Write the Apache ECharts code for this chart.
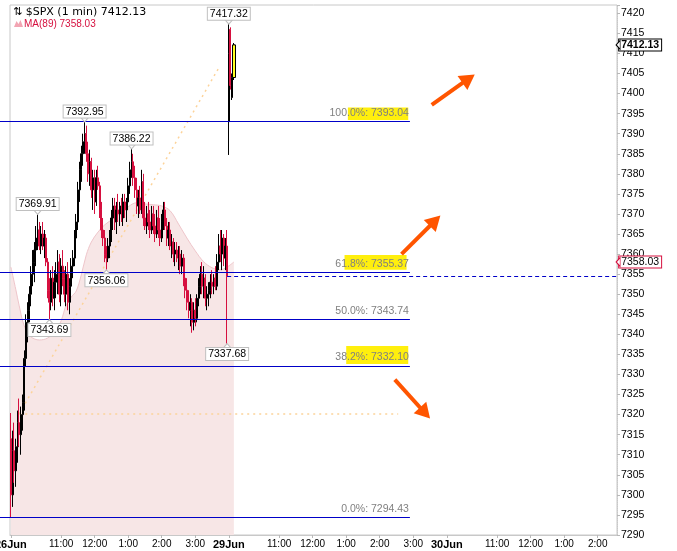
<!DOCTYPE html>
<html><head><meta charset="utf-8">
<script src="https://cdn.jsdelivr.net/npm/echarts@6/dist/echarts.min.js"></script>
<style>html,body{margin:0;padding:0;background:#fff}#c{width:677px;height:551px}</style>
</head><body><div id="c"></div>
<script>
// 3-minute bars (26Jun session + first bars of 29Jun)
const barOpen = [7314,7300,7311,7306,7312,7318,7315,7320,7323,7334,
7343,7346,7350,7355,7358,7361,7364,7366,7362,7365,
7362,7364,7358,7351,7348,7354,7349,7353,7355,7358,
7350,7357,7354,7350,7355,7348,7352,7357,7359,7364,
7368,7376,7381,7385,7388,7390,7385,7380,7383,7376,
7379,7373,7379,7377,7371,7366,7364,7360,7359,7362,
7365,7369,7372,7368,7371,7370,7372,7369,7373,7371,
7373,7377,7381,7383,7379,7376,7372,7374,7371,7378,
7369,7367,7370,7368,7366,7370,7367,7365,7369,7366,
7364,7368,7371,7367,7364,7366,7362,7363,7360,7361,
7359,7360,7357,7359,7354,7351,7348,7346,7348,7343,
7346,7344,7349,7352,7355,7352,7354,7349,7350,7351,
7353,7352,7354,7352,7358,7362,7360,7364,7359,7362,
7393,7416,7399,7404];
const barHigh = [7320.4,7316,7318,7314,7321,7324,7322,7325,7336,7345,
7348,7352,7357,7361,7363,7367,7369.91,7368,7367,7368,
7366,7365,7359,7354,7356,7357,7356,7358,7361,7360,
7359,7361,7356,7357,7358,7354,7359,7361,7366,7370,
7378,7383,7387,7390,7392.95,7392,7388,7386,7384,7381,
7381,7381,7382,7378,7373,7369,7366,7362,7364,7366,
7371,7374,7374,7373,7375,7373,7374,7375,7375,7374,
7379,7383,7386.22,7385,7382,7379,7376,7377,7381,7380,
7373,7372,7373,7371,7372,7372,7370,7371,7372,7369,
7370,7373,7373,7369,7368,7368,7365,7364,7363,7363,
7362,7362,7361,7360,7357,7354,7351,7350,7349,7348,
7349,7350,7354,7357,7358,7357,7355,7352,7353,7355,
7356,7355,7357,7360,7365,7366,7366,7365,7364,7366,
7417.32,7416.5,7405,7412.6];
const barLow = [7294.43,7297,7303,7302,7308,7312,7310,7316,7321,7332,
7338,7343,7347,7352,7353,7357,7361,7361,7360,7361,
7359,7357,7349,7343.69,7346,7347,7346,7349,7350,7348,
7347,7352,7348,7347,7346,7345,7350,7354,7357,7362,
7366,7373,7378,7382,7385,7383,7378,7377,7374,7371,
7370,7372,7376,7369,7364,7362,7358,7356.06,7358,7359,
7363,7366,7366,7365,7368,7367,7368,7367,7369,7368,
7371,7375,7379,7377,7374,7370,7369,7370,7370,7367,
7366,7365,7366,7364,7365,7365,7363,7364,7364,7362,
7363,7366,7366,7362,7362,7361,7359,7358,7357,7358,
7356,7355,7355,7352,7349,7346,7344,7342,7340.4,7341,
7342,7343,7347,7350,7350,7349,7347,7346,7347,7349,
7350,7350,7351,7351,7356,7358,7356,7357,7356,7337.68,
7384.7,7401,7398.4,7403.4];
const barClose = [7300,7311,7306,7312,7318,7315,7320,7323,7334,7343,
7346,7350,7355,7358,7361,7364,7366,7362,7365,7362,
7364,7358,7351,7348,7354,7349,7353,7355,7358,7350,
7357,7354,7350,7355,7348,7352,7357,7359,7364,7368,
7376,7381,7385,7388,7390,7385,7380,7383,7376,7379,
7373,7379,7377,7371,7366,7364,7360,7359,7362,7365,
7369,7372,7368,7371,7370,7372,7369,7373,7371,7373,
7377,7381,7383,7379,7376,7372,7374,7371,7378,7369,
7367,7370,7368,7366,7370,7367,7365,7369,7366,7364,
7368,7371,7367,7364,7366,7362,7363,7360,7361,7359,
7360,7357,7359,7354,7351,7348,7346,7348,7343,7346,
7344,7349,7352,7355,7352,7354,7349,7350,7351,7353,
7352,7354,7352,7358,7362,7360,7364,7359,7362,7354.4,
7410,7402,7404,7412.13];
const highlightIdx = [133];

// MA(89) read at sample bars
const maIdx = [0,3,5,8,12,17,22,27,30,33,36,39,42,45,48,52,56,60,65,70,75,80,85,90,95,100,105,110,115,120,125,129,133];
const maVal = [7356.8,7351.1,7347.1,7342.1,7339.4,7338.6,7339.1,7341.1,7343.4,7347.3,7349.3,7350.8,7354.8,7359.8,7363.0,7365.5,7367.3,7368.5,7370.0,7371.8,7372.8,7372.5,7372.3,7372.0,7370.8,7367.5,7364.0,7360.8,7358.1,7356.6,7356.1,7356.8,7358.03];

// x axis (3-min slots) and tick labels
const sessionDays = ['26Jun','29Jun','30Jun'];
const slotCount = 362;
const xTickIdx = [0,30,50,70,90,110,130,160,180,200,220,240,260,290,310,330,350];
const xTickText = ['26Jun','11:00','12:00','1:00','2:00','3:00','29Jun','11:00','12:00','1:00','2:00','3:00','30Jun','11:00','12:00','1:00','2:00'];

// Fibonacci retracement
const fibPct = ['100.0','61.8','50.0','38.2','0.0'];
const fibVal = [7393.04,7355.37,7343.74,7332.10,7294.43];
const fibEndIdx = 238;

// swing labels
const swingIdx = [44,72,16,57,23,129,130];
const swingVal = [7392.95,7386.22,7369.91,7356.06,7343.69,7337.68,7417.32];
const swingSide = ['top','top','top','bottom','bottom','bottom','top'];

const lastPrice = 7412.13;
const maLast = 7358.03;
const prevClose = 7354.4;
const prevCloseIdx = [129, 361];

// drawn annotations (data coords)
const trendFrom = [5, 7320.2];
const trendTo = [124, 7406.4];
const hLineFrom = [5, 7320.2];
const hLineTo = [231, 7320.2];
const arrowsFrom = [[251,7397.2],[233,7360.0],[229,7328.7]];
const arrowsTo = [[273,7403.7],[253,7368.3],[247,7320.4]];
const yellowFrom = [[201,7396.5],[199,7359.8],[200,7337.1]];
const yellowTo = [[237,7393.4],[236,7356.1],[237,7332.6]];

const categories = [];
for (let i = 0; i < slotCount; i++) {
  const d = Math.floor(i / 130), m = 570 + (i % 130) * 3;
  categories.push(sessionDays[d] + ' ' + String(Math.floor(m/60)).padStart(2,'0') + ':' + String(m%60).padStart(2,'0'));
}
const candleData = barOpen.map((o,i)=>[o, barClose[i], barLow[i], barHigh[i]]);
const hlData = candleData.map((d,i)=> highlightIdx.includes(i) ? d : ['-','-','-','-']);
const maData = new Array(barOpen.length).fill(null);
maIdx.forEach((ix,k)=>{ maData[ix] = maVal[k]; });

const RED = '#d6103f';
const BLUE = '#0000c8';
const CLEAR = 'rgba(0,0,0,0)';
const isTick = (i)=> xTickIdx.indexOf(i) >= 0;

const fibLines = fibPct.map((p,k)=>[
  {coord:[0, fibVal[k]], x:0},
  {coord:[fibEndIdx, fibVal[k]],
   lineStyle:{color:BLUE, width:1, type:'solid'},
   label:{show:true, position:'insideEndTop', distance:[1,3], formatter: p + '%: ' + fibVal[k].toFixed(2), color:'#808080', fontSize:10.5}}
]);
const arrowLines = arrowsFrom.map((f,k)=>[
  {coord:f, symbol:'none'},
  {coord:arrowsTo[k], symbol:'triangle', symbolSize:[17,15], lineStyle:{color:'#ff5500', width:4, type:'solid'}, label:{show:false}}
]);
const priceBox = (v, border, bold)=>[
  {coord:[prevCloseIdx[1] - 2, v], symbol:'none'},
  {coord:[prevCloseIdx[1], v], symbol:'none', lineStyle:{color:CLEAR, width:1},
   label:{show:true, position:'end', distance:3, formatter:v.toFixed(2), fontWeight: bold ? 'bold' : 'normal', fontSize:10.5, color:'#000',
     backgroundColor:'#fff', borderColor:border, borderWidth:1, padding:[1,2,0,2], lineHeight:10}}
];
const pricePointer = (v, border)=>({coord:[prevCloseIdx[1], v], value:v, symbol:'triangle', symbolSize:[9,4], symbolRotate:90, symbolOffset:[2,0],
  itemStyle:{color:'#fff', borderColor:border, borderWidth:1}, label:{show:false}});

const option = {
  animation:false,
  textStyle:{fontFamily:'"Liberation Sans", Arial, sans-serif'},
  grid:{left:10, right:60, top:5, bottom:16, containLabel:false, outerBoundsMode:'none', show:true, borderColor:'#c8c8c8', borderWidth:1},
  xAxis:{type:'category', data:categories, boundaryGap:true,
    axisLine:{show:true, lineStyle:{color:'#c8c8c8'}},
    axisTick:{show:true, interval:(i)=>isTick(i), alignWithLabel:true, length:3, lineStyle:{color:'#b8b8b8'}},
    axisLabel:{interval:(i)=>isTick(i), margin:4, fontSize:10, color:'#000', hideOverlap:false,
      formatter:(v,i)=>{ const k = xTickIdx.indexOf(i); if (k<0) return ''; const t = xTickText[k]; return /Jun/.test(t) ? '{b|'+t+'}' : t; },
      rich:{b:{fontWeight:'bold', fontSize:11, color:'#000'}}},
    splitLine:{show:false}},
  yAxis:{type:'value', position:'right', min:7290, max:7422.07, interval:5,
    axisLine:{show:true, lineStyle:{color:'#c8c8c8', type:'dotted'}},
    axisTick:{show:true, length:3, lineStyle:{color:'#b8b8b8'}},
    axisLabel:{fontSize:10.5, color:'#000', margin:4, formatter:(v)=> (Math.abs(v % 5) < 1e-6 ? String(v) : '')},
    splitLine:{show:false}},
  series:[
    {type:'line', name:'MA(89)', data:maData, connectNulls:true, smooth:0.35, symbol:'none', showSymbol:false, z:1,
     lineStyle:{color:'#eec5ca', width:1}, areaStyle:{color:'#f7e6e6', opacity:1, origin:'start'},
     markLine:{z:2, silent:true, symbol:['none','none'], label:{show:false},
       lineStyle:{color:'#fcd39a', type:[2,4], width:1.5},
       data:[[{coord:trendFrom},{coord:trendTo}],[{coord:hLineFrom},{coord:hLineTo}]]},
     markArea:{z:2, silent:true, itemStyle:{color:'#ffee00', opacity:0.95},
       data: yellowFrom.map((f,k)=>[{coord:f},{coord:yellowTo[k]}])}
    },
    {type:'candlestick', name:'$SPX', data:candleData, barWidth:1.5, z:3,
     itemStyle:{color:'#000', color0:RED, borderColor:'#000', borderColor0:RED, borderWidth:1},
     markPoint:{z:6, symbol:'triangle', symbolSize:[7,4],
       itemStyle:{color:'#fff', borderColor:'#c0c0c0', borderWidth:1},
       label:{show:true, color:'#000', fontSize:10.5, lineHeight:11, backgroundColor:'#fff', borderColor:'#c0c0c0', borderWidth:1, padding:[1,2,0,2], distance:0,
         formatter:(p)=> Number(p.value).toFixed(2)},
       data: swingIdx.map((ix,k)=>({coord:[ix, swingVal[k]], value:swingVal[k],
         symbolRotate: swingSide[k]==='top' ? 180 : 0,
         symbolOffset:[0, swingSide[k]==='top' ? -2 : 2],
         label:{position:swingSide[k]}})).concat([pricePointer(lastPrice, '#000'), pricePointer(maLast, RED)])},
     markLine:{z:5, silent:true, symbol:['none','none'], label:{show:false},
       data:[
         ...fibLines,
         [{coord:[prevCloseIdx[0], prevClose]},{coord:[prevCloseIdx[1], prevClose], lineStyle:{color:BLUE, type:[4,3], width:1}}],
         ...arrowLines,
         priceBox(lastPrice, '#000', true),
         priceBox(maLast, RED, false)
       ]}
    },
    {type:'candlestick', name:'highlight', data:hlData, barWidth:4, z:4,
     itemStyle:{color:'#ffff22', color0:'#ffff22', borderColor:'#000', borderColor0:'#000', borderWidth:1}}
  ],
  graphic:[
    {type:'text', left:13, top:7, style:{text:'⇅ $SPX (1 min) ' + lastPrice.toFixed(2), font:'11px "DejaVu Sans"', fill:'#000'}},
    {type:'polygon', shape:{points:[[14,27],[16.5,21],[18.5,24],[20.5,20],[23,27]]}, style:{fill:'#f2a5b3'}},
    {type:'text', left:24, top:19, style:{text:'MA(89) ' + maLast.toFixed(2), font:'10px "Liberation Sans"', fill:RED}}
  ]
};
const chart = echarts.init(document.getElementById('c'));
chart.setOption(option);
</script>
</body></html>
